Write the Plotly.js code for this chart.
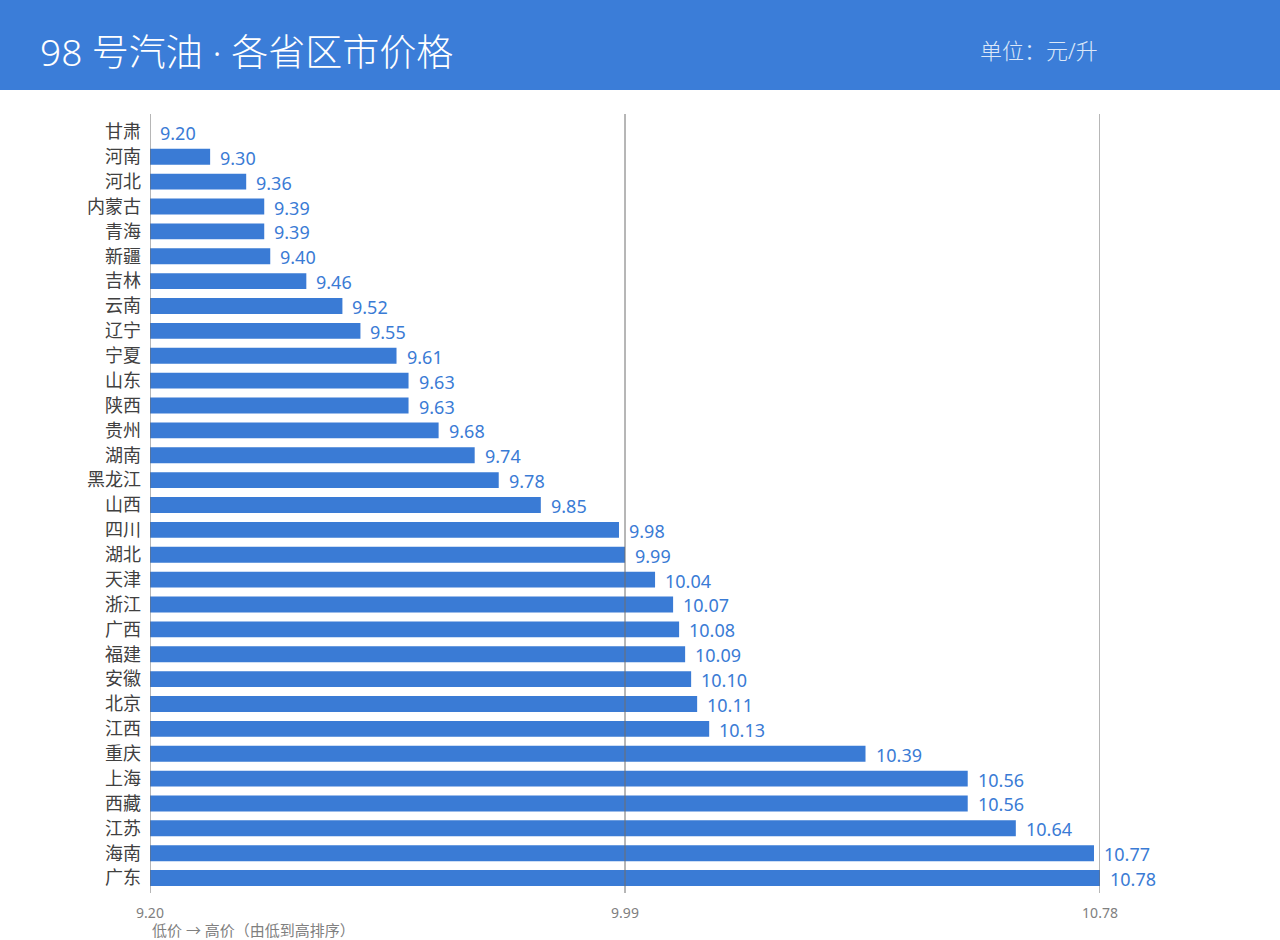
<!DOCTYPE html>
<html>
<head>
<meta charset="utf-8">
<script src="https://cdn.plot.ly/plotly-3.0.1.min.js"></script>
<style>
html,body{margin:0;padding:0;background:#fff;}
#chart{width:1280px;height:940px;}
</style>
</head>
<body>
<div id="chart"></div>
<script>
const provinces = ["甘肃","河南","河北","内蒙古","青海","新疆","吉林","云南","辽宁","宁夏","山东","陕西","贵州","湖南","黑龙江","山西","四川","湖北","天津","浙江","广西","福建","安徽","北京","江西","重庆","上海","西藏","江苏","海南","广东"];
const prices = [9.20,9.30,9.36,9.39,9.39,9.40,9.46,9.52,9.55,9.61,9.63,9.63,9.68,9.74,9.78,9.85,9.98,9.99,10.04,10.07,10.08,10.09,10.10,10.11,10.13,10.39,10.56,10.56,10.64,10.77,10.78];
const tickValues = [9.20, 9.99, 10.78];
const tickLabels = ["9.20", "9.99", "10.78"];
const titleText = "98 号汽油 · 各省区市价格";
const unitText = "单位：元/升";
const axisNote = "低价 → 高价（由低到高排序）";

const minP = Math.min(...prices);
const maxP = Math.max(...prices);
const FONT = "Noto Sans, Noto Sans CJK SC, sans-serif";
const BLUE = "#3a7bd5";

const trace = {
  type: "bar",
  orientation: "h",
  y: provinces,
  x: prices.map(p => p - minP),
  base: minP,
  marker: {color: BLUE},
  cliponaxis: false,
  hoverinfo: "skip"
};

const gridShapes = tickValues.map(v => ({
  type: "line", xref: "x", yref: "paper", x0: v, x1: v, y0: 0, y1: 1,
  line: {color: "#6e6e6e", width: 1}, layer: "above"
}));

const valueLabels = prices.map((p, i) => ({
  xref: "x", yref: "y", x: p, y: provinces[i],
  xanchor: "left", yanchor: "middle", xshift: 8, yshift: -1,
  text: p.toFixed(2), showarrow: false,
  font: {size: 18, color: BLUE, family: FONT}
}));

const layout = {
  width: 1280, height: 940,
  margin: {l: 150, r: 180, t: 114, b: 47},
  paper_bgcolor: "#ffffff",
  plot_bgcolor: "#ffffff",
  showlegend: false,
  bargap: 0.36,
  font: {family: FONT},
  xaxis: {
    range: [minP, maxP],
    tickvals: tickValues,
    ticktext: tickLabels,
    showgrid: false,
    zeroline: false,
    showline: false,
    ticks: "",
    ticklabelstandoff: 10,
    tickfont: {size: 14, color: "#808080", family: FONT},
    fixedrange: true
  },
  yaxis: {
    type: "category",
    range: [30.6, -0.72],
    showgrid: false,
    zeroline: false,
    showline: false,
    ticks: "",
    ticklabelstandoff: 8,
    tickfont: {size: 18, color: "#404040", family: FONT},
    fixedrange: true
  },
  shapes: [
    {type: "rect", xref: "paper", yref: "paper", x0: -0.2, x1: 1.3, y0: 1.0 + 24/779, y1: 1.2, fillcolor: "#3b7dd8", line: {width: 0}, layer: "below"}
  ].concat(gridShapes),
  annotations: [
    {xref: "paper", yref: "paper", x: -150/950 + 38/950, y: 1 + (114 - 52)/779, xanchor: "left", yanchor: "middle", text: titleText, showarrow: false, font: {size: 37, color: "#ffffff", family: FONT, weight: 300}},
    {xref: "paper", yref: "paper", x: (978 - 150)/950, y: 1 + (114 - 50)/779, xanchor: "left", yanchor: "middle", text: unitText, showarrow: false, font: {size: 22, color: "#dce8f8", family: FONT, weight: 300}},
    {xref: "paper", yref: "paper", x: 0, y: -(930 - 893)/779, xanchor: "left", yanchor: "middle", text: axisNote, showarrow: false, font: {size: 15, color: "#808080", family: FONT}}
  ].concat(valueLabels)
};

Plotly.newPlot("chart", [trace], layout, {displayModeBar: false, staticPlot: true});
</script>
</body>
</html>
